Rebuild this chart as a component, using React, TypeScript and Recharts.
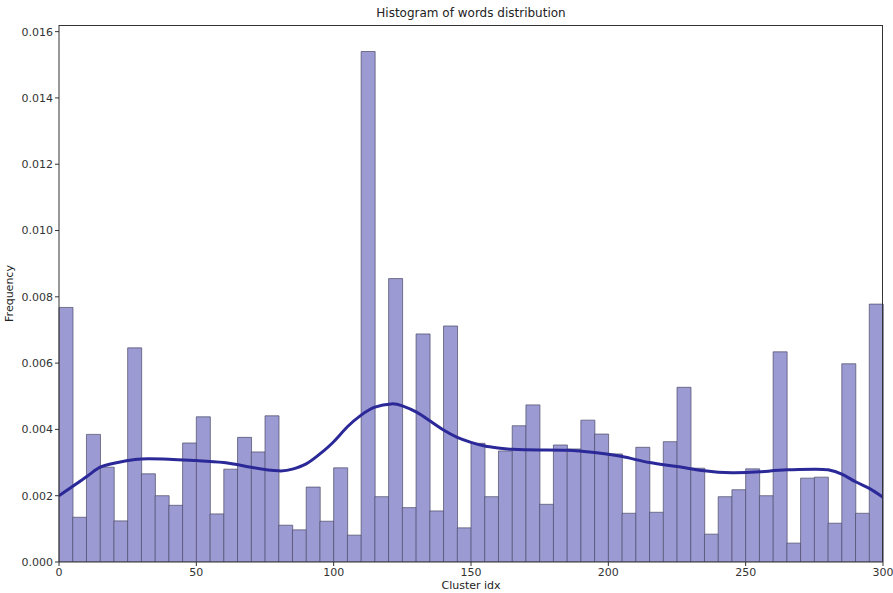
import { ComposedChart, Bar, Line, XAxis, YAxis, Label } from "recharts";

// histogram bins over cluster idx 0..300, width 5
const BIN_WIDTH = 5;
const FREQ = [
  0.00768, 0.00135, 0.00385, 0.00286, 0.00124, 0.00646, 0.00266, 0.0020, 0.00171, 0.00359,
  0.00438, 0.00145, 0.0028, 0.00376, 0.00332, 0.00441, 0.00111, 0.00097, 0.00226, 0.00123,
  0.00284, 0.00081, 0.0154, 0.00197, 0.00855, 0.00164, 0.00688, 0.00154, 0.00712, 0.00103,
  0.00358, 0.00197, 0.00335, 0.00411, 0.00474, 0.00174, 0.00353, 0.00341, 0.00428, 0.00386,
  0.00326, 0.00147, 0.00346, 0.0015, 0.00363, 0.00527, 0.00283, 0.00084, 0.00197, 0.00218,
  0.00281, 0.002, 0.00634, 0.00057, 0.00253, 0.00256, 0.00117, 0.00598, 0.00147, 0.00778,
];

// kde curve
const KDE_X = [0, 10, 15, 20, 25, 30, 40, 50, 60, 70, 80, 85, 90, 95, 100, 105, 110, 115, 121, 125, 130, 135, 140, 145, 150, 155, 160, 165, 175, 185, 195, 205, 215, 225, 235, 245, 255, 265, 275, 280, 285, 290, 295, 300];
const KDE_Y = [0.002, 0.00257, 0.00286, 0.00298, 0.00306, 0.00311, 0.0031, 0.00306, 0.003, 0.00286, 0.00275, 0.0028, 0.00296, 0.00326, 0.00363, 0.00408, 0.00443, 0.00467, 0.00477, 0.00471, 0.00453, 0.00426, 0.00398, 0.00376, 0.00361, 0.0035, 0.00344, 0.0034, 0.00338, 0.00337, 0.0033, 0.00318, 0.003, 0.00288, 0.00275, 0.00269, 0.00272, 0.00278, 0.0028, 0.00278, 0.00265, 0.00242, 0.00222, 0.00195];

const X_TICKS = [0, 50, 100, 150, 200, 250, 300];
const Y_TICKS = [0, 0.002, 0.004, 0.006, 0.008, 0.01, 0.012, 0.014, 0.016];

const bins = FREQ.map((f, i) => ({ bin: i * BIN_WIDTH, freq: f }));
const kde = KDE_X.map((x, i) => ({ x, y: KDE_Y[i] }));

const font = "'DejaVu Sans', sans-serif";
const tickStyle = { fontSize: 11, fill: "#333", fontFamily: font };

export default function App() {
  return (
    <div style={{ position: "absolute", left: 0, top: 0, width: 893, height: 593, background: "#fff" }}>
      <div
        style={{
          position: "absolute",
          left: 59,
          width: 824,
          top: 6,
          textAlign: "center",
          fontFamily: font,
          fontSize: 12,
          color: "#222",
        }}
      >
        Histogram of words distribution
      </div>
      <ComposedChart
        width={893}
        height={593}
        data={bins}
        margin={{ top: 25, right: 10, left: 0, bottom: 0 }}
        barCategoryGap={0}
        barGap={0}
      >
        <XAxis xAxisId="bins" dataKey="bin" type="category" hide height={0} />
        <XAxis
          xAxisId="num"
          type="number"
          dataKey="x"
          domain={[0, 300]}
          ticks={X_TICKS}
          height={31}
          tick={tickStyle}
          tickSize={4}
          tickLine={{ stroke: "#333" }}
          axisLine={{ stroke: "#333" }}
          allowDataOverflow
        >
          <Label value="Cluster idx" position="insideBottom" offset={4} style={{ fontSize: 11, fill: "#222", fontFamily: font }} />
        </XAxis>
        <YAxis
          yAxisId="left"
          type="number"
          domain={[0, 0.0162]}
          ticks={Y_TICKS}
          width={59}
          tick={tickStyle}
          tickSize={4}
          tickLine={{ stroke: "#333" }}
          axisLine={{ stroke: "#333" }}
          tickFormatter={(v: number) => v.toFixed(3)}
          allowDataOverflow
        >
          <Label value="Frequency" angle={-90} position="insideLeft" offset={9} style={{ fontSize: 11, fill: "#222", fontFamily: font, textAnchor: "middle" }} />
        </YAxis>
        <Bar
          xAxisId="bins"
          yAxisId="left"
          dataKey="freq"
          fill="#9c9ad2"
          stroke="#4a4a66"
          strokeOpacity={0.7}
          strokeWidth={1}
          isAnimationActive={false}
        />
        <Line
          xAxisId="num"
          yAxisId="left"
          data={kde}
          dataKey="y"
          type="natural"
          stroke="#2b2898"
          strokeWidth={3}
          dot={false}
          isAnimationActive={false}
        />
      </ComposedChart>
      {/* top and right spines of the matplotlib box */}
      <div
        style={{
          position: "absolute",
          left: 59,
          top: 25,
          width: 824,
          height: 537,
          borderTop: "1px solid #333",
          borderRight: "1px solid #333",
          boxSizing: "border-box",
          pointerEvents: "none",
        }}
      />
    </div>
  );
}
